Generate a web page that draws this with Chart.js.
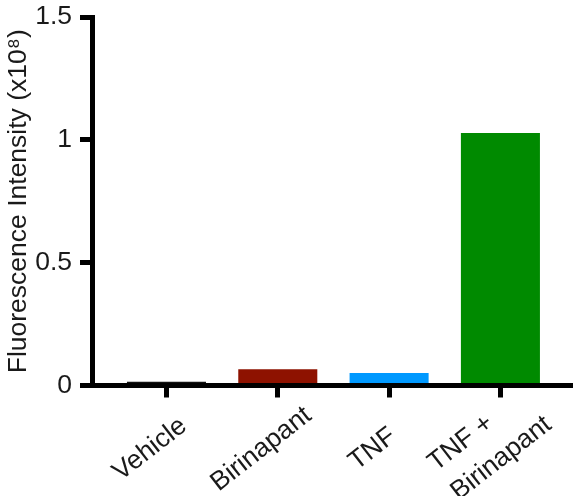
<!DOCTYPE html>
<html>
<head>
<meta charset="utf-8">
<script src="https://cdn.jsdelivr.net/npm/chart.js@4.4.1/dist/chart.umd.min.js"></script>
<style>
  html, body { margin: 0; padding: 0; background: #ffffff; }
  #wrap { width: 573px; height: 496px; }
</style>
</head>
<body>
<div id="wrap"><canvas id="c" width="573" height="496"></canvas></div>
<script>
const categories = ["Vehicle", "Birinapant", "TNF", ["TNF +", "Birinapant"]];
const values = [0.015, 0.066, 0.051, 1.028];
const barColors = ["#111111", "#8e1200", "#0099ff", "#008a00"];
const yTicks = [0, 0.5, 1, 1.5];
const yTitle = "Fluorescence Intensity (x10\u2078)";

const FONT = "'Liberation Sans', Arial, Helvetica, sans-serif";
const FONT_SIZE = 26.5;
const TEXT = "#1a1a1a";

// Rotated category labels: each label block centred below its tick, lines left-aligned.
const rotatedLabels = {
  id: "rotatedLabels",
  afterDraw(chart) {
    const xs = chart.scales.x;
    const ctx = chart.ctx;
    const angle = -38 * Math.PI / 180;
    const lineGap = 37;
    ctx.save();
    ctx.font = FONT_SIZE + "px " + FONT;
    ctx.fillStyle = TEXT;
    ctx.textAlign = "left";
    ctx.textBaseline = "alphabetic";
    categories.forEach((lab, i) => {
      const lines = Array.isArray(lab) ? lab : [lab];
      const extra = lines.length - 1;
      const px = xs.getPixelForValue(i) - 12 + 6 * extra;
      const py = xs.top + 69.5 - 5.5 * extra;
      const maxW = Math.max(...lines.map(l => ctx.measureText(l).width));
      ctx.save();
      ctx.translate(px, py);
      ctx.rotate(angle);
      lines.forEach((l, j) => {
        ctx.fillText(l, -maxW / 2, (j - extra / 2) * lineGap);
      });
      ctx.restore();
    });
    ctx.restore();
  }
};

new Chart(document.getElementById("c"), {
  type: "bar",
  data: {
    datasets: [{
      data: categories.map((c, i) => ({ x: i, y: values[i] })),
      backgroundColor: barColors,
      borderWidth: 0,
      categoryPercentage: 1,
      barPercentage: 0.71
    }]
  },
  plugins: [rotatedLabels],
  options: {
    responsive: false,
    animation: false,
    devicePixelRatio: 1,
    layout: { padding: { top: 17, right: 0, left: 0, bottom: 0 } },
    plugins: { legend: { display: false }, tooltip: { enabled: false } },
    scales: {
      x: {
        type: "linear",
        offset: false,
        min: -0.669,
        max: 3.652,
        z: 1,
        afterBuildTicks: (s) => { s.ticks = categories.map((c, i) => ({ value: i })); },
        afterFit: (s) => { s.height = 110.5; s.paddingLeft = 0; s.paddingRight = 0; },
        border: { display: true, color: "#000", width: 5 },
        grid: { offset: false, drawOnChartArea: false, drawTicks: true, tickLength: 12, lineWidth: 5, color: "#000" },
        ticks: { display: false }
      },
      y: {
        min: 0,
        max: 1.5,
        z: 1,
        afterBuildTicks: (s) => { s.ticks = yTicks.map(v => ({ value: v })); },
        afterFit: (s) => { s.width = 92; s.paddingTop = 0; s.paddingBottom = 0; },
        border: { display: true, color: "#000", width: 5 },
        grid: { drawOnChartArea: false, drawTicks: true, tickLength: 12, lineWidth: 5, color: "#000" },
        ticks: {
          padding: 8,
          color: TEXT,
          font: { family: FONT, size: FONT_SIZE },
          callback: (v) => String(v)
        },
        title: {
          display: true,
          text: yTitle,
          color: TEXT,
          font: { family: FONT, size: FONT_SIZE },
          padding: { top: 3, bottom: 0 }
        }
      }
    }
  }
});
</script>
</body>
</html>
